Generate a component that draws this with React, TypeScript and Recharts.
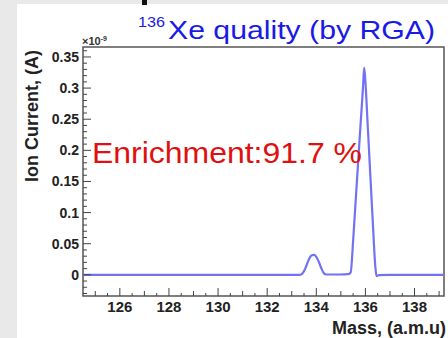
import React from "react";
import { LineChart, Line, XAxis, YAxis, ReferenceArea } from "recharts";

// mass (a.m.u) and ion current (x1e-9 A)
const mass = [
  124.5, 125, 126, 127, 128, 129, 130, 131, 132, 133, 133.3, 133.4, 133.5,
  133.6, 133.7, 133.8, 133.9, 134.0, 134.1, 134.2, 134.3, 134.4, 134.6, 135.0,
  135.3, 135.4, 135.5, 135.6, 135.7, 135.8, 135.9, 135.95, 136.0, 136.1, 136.2,
  136.3, 136.4, 136.45, 136.55, 137, 138, 139, 139.2,
];
const current = [
  0, 0, 0, 0, 0, 0, 0, 0, 0, 0, 0, 0.001, 0.006, 0.015, 0.025, 0.031, 0.032,
  0.029, 0.021, 0.011, 0.003, 0.0005, 0.0005, 0.0005, 0.001, 0.004, 0.055,
  0.117, 0.179, 0.24, 0.3, 0.333, 0.31, 0.235, 0.16, 0.085, 0.015, -0.002,
  -0.0005, 0, 0, 0, 0,
];

const xLabels = [126, 128, 130, 132, 134, 136, 138];
const yLabels = [0, 0.05, 0.1, 0.15, 0.2, 0.25, 0.3, 0.35];

const X_DOMAIN = [124.5, 139.2];
const Y_DOMAIN = [-0.034, 0.366];

const data = mass.map((m, i) => ({ mass: m, current: current[i] }));

// minor tick positions
const xTicks: number[] = [];
for (let v = 125; v <= 139; v += 0.5) xTicks.push(v);
const yTicks: number[] = [];
for (let k = -3; k <= 36; k++) yTicks.push(k / 100);

const near = (a: number, b: number) => Math.abs(a - b) < 1e-6;

const XTick = (props: any) => {
  const { x, y, payload } = props;
  const v = payload.value;
  const major = xLabels.some((l) => near(l, v));
  const medium = !major && near(v, Math.round(v));
  const len = major ? 8 : medium ? 5 : 3;
  return (
    <g>
      <line x1={x} x2={x} y1={y} y2={y - len} stroke="#444" strokeWidth={1} />
      {major && (
        <text
          x={x}
          y={y + 16}
          textAnchor="middle"
          fontSize={15}
          fontWeight="bold"
          fill="#222"
          fontFamily="Liberation Sans, Arial, sans-serif"
        >
          {v}
        </text>
      )}
    </g>
  );
};

const YTick = (props: any) => {
  const { x, y, payload } = props;
  const v = payload.value;
  const major = yLabels.some((l) => near(l, v));
  const len = major ? 8 : 4;
  return (
    <g>
      <line x1={x} x2={x + len} y1={y} y2={y} stroke="#444" strokeWidth={1} />
      {major && (
        <text
          x={x - 4}
          y={y + 5}
          textAnchor="end"
          fontSize={14}
          fontWeight="bold"
          fill="#222"
          fontFamily="Liberation Sans, Arial, sans-serif"
        >
          {v}
        </text>
      )}
    </g>
  );
};

export default function App() {
  const font = "Liberation Sans, Arial, sans-serif";
  return (
    <div
      style={{
        position: "absolute",
        left: 0,
        top: 0,
        width: 448,
        height: 338,
        background: "#fff",
        overflow: "hidden",
      }}
    >
      <div style={{ position: "absolute", left: 0, top: 0, width: 17, height: 338, background: "#e9e9e9" }} />
      <div style={{ position: "absolute", left: 0, top: 0, width: 448, height: 4, background: "#e9e9e9" }} />
      <div style={{ position: "absolute", left: 142, top: 0, width: 5, height: 5, background: "#111" }} />
      <LineChart
        width={448}
        height={338}
        data={data}
        margin={{ top: 47, right: 4, bottom: 12, left: 23 }}
        style={{ position: "absolute", left: 0, top: 0 }}
      >
        <XAxis
          dataKey="mass"
          type="number"
          domain={X_DOMAIN}
          allowDataOverflow
          ticks={xTicks}
          interval={0}
          height={30}
          tickSize={0}
          tickMargin={0}
          tickLine={false}
          axisLine={false}
          tick={<XTick />}
        />
        <YAxis
          type="number"
          domain={Y_DOMAIN}
          allowDataOverflow
          ticks={yTicks}
          interval={0}
          width={60}
          tickSize={0}
          tickMargin={0}
          tickLine={false}
          axisLine={false}
          tick={<YTick />}
        />
        <ReferenceArea
          x1={X_DOMAIN[0]}
          x2={X_DOMAIN[1]}
          y1={Y_DOMAIN[0]}
          y2={Y_DOMAIN[1]}
          fill="none"
          stroke="#555"
          strokeWidth={1.5}
          ifOverflow="visible"
        />
        <Line
          type="monotone"
          dataKey="current"
          stroke="#7272f4"
          strokeWidth={2.2}
          dot={false}
          isAnimationActive={false}
        />
      </LineChart>
      <svg
        width={448}
        height={338}
        style={{ position: "absolute", left: 0, top: 0, pointerEvents: "none" }}
        fontFamily={font}
      >
        <text x={138} y={27} fill="#1a1ae6" fontSize={15} textLength={27} lengthAdjust="spacingAndGlyphs">
          136
        </text>
        <text x={168} y={39} fill="#1a1ae6" fontSize={26} textLength={267} lengthAdjust="spacingAndGlyphs">
          Xe quality (by RGA)
        </text>
        <text x={82} y={45} fontSize={11} fontWeight="bold" fill="#333">
          ×10<tspan fontSize={7} dy={-4}>-9</tspan>
        </text>
        <text x={92} y={163} fill="#e01010" fontSize={30} textLength={270} lengthAdjust="spacingAndGlyphs">
          Enrichment:91.7 %
        </text>
        <text
          transform="translate(38,50) rotate(-90)"
          textAnchor="end"
          fontSize={18}
          fontWeight="bold"
          fill="#222"
        >
          Ion Current, (A)
        </text>
        <text x={446} y={334} textAnchor="end" fontSize={18} fontWeight="bold" fill="#222">
          Mass, (a.m.u)
        </text>
      </svg>
    </div>
  );
}
